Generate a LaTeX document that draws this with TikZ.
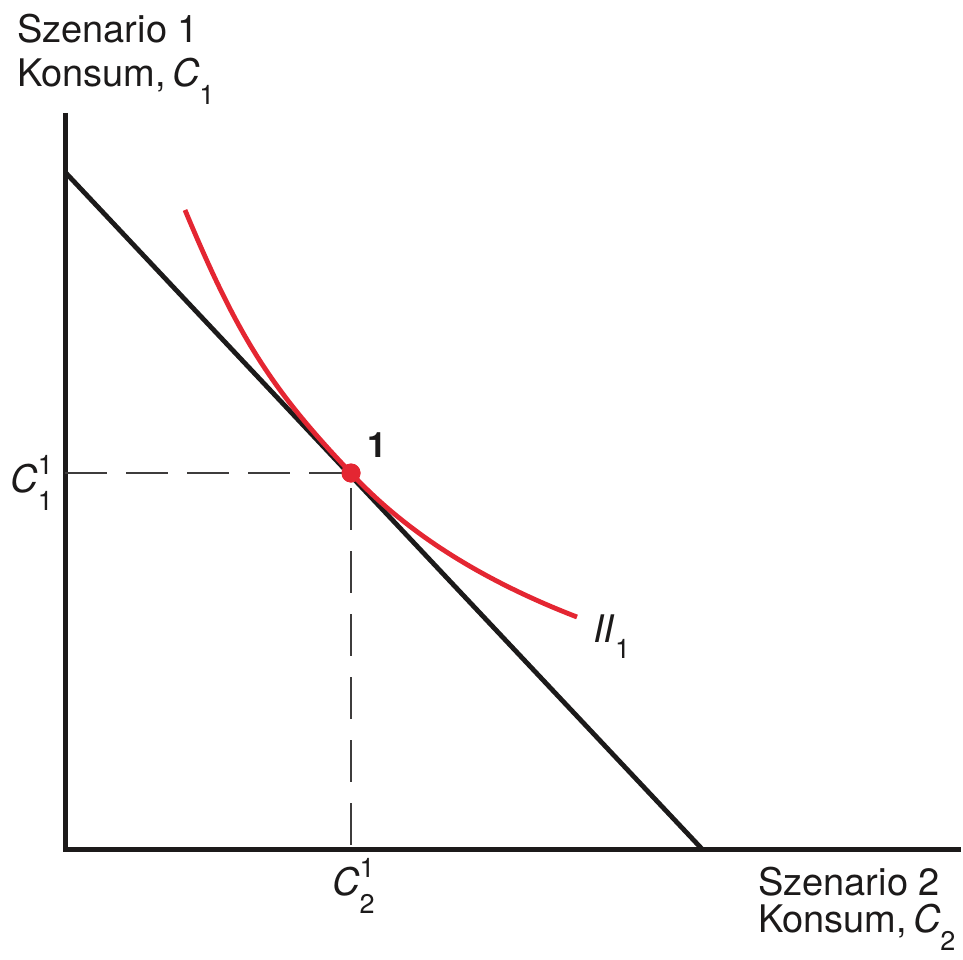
\documentclass[tikz,border=0pt]{standalone}
\usepackage{fontspec}
\setmainfont{TeX Gyre Heros}
\definecolor{curvered}{RGB}{228,38,50}
\definecolor{ink}{RGB}{28,26,26}
\newcommand{\scriptnum}[1]{{\fontsize{27}{27}\selectfont #1}}
\newcommand{\subonly}[2]{#1\raisebox{-18pt}{\scriptnum{#2}}}
\newcommand{\supandsub}[3]{#1\rlap{\raisebox{18pt}{\scriptnum{#2}}}\raisebox{-18pt}{\scriptnum{#3}}}
\begin{document}
\begin{tikzpicture}[x=1pt,y=-1pt,
  lbl/.style={inner sep=0pt, text=ink, font=\fontsize{38}{44}\selectfont},
  axisline/.style={line width=5pt, draw=ink},
  budget/.style={line width=4.8pt, draw=ink},
  indiff/.style={line width=4.8pt, draw=curvered},
  guide/.style={line width=2pt, draw=ink!85}]
\useasboundingbox (0,0) rectangle (963,960);
% coordinates
\coordinate (O) at (65,849);
\coordinate (Ytop) at (65,113);
\coordinate (Xend) at (961,849);
\coordinate (B1) at (65,172);
\coordinate (B2) at (702,849);
\coordinate (S) at (185,210);
\coordinate (E) at (577,617);
\coordinate (Hs) at (65,473);
% axes
\draw[axisline] (Ytop) -- (O) -- (Xend);
% budget line
\draw[budget] (B1) -- (B2);
% tangency point
\node[circle, fill=curvered, minimum size=19pt, inner sep=0pt] (P) at (351,473) {};
% dashed guides
\draw[guide, dash pattern=on 42pt off 19pt] (Hs) -- (P.center);
\draw[guide, dash pattern=on 42pt off 21pt, dash phase=48pt] (P.center) -- (P |- O);
% indifference curve
\draw[indiff] (S) .. controls (237.4,335.8) and (270.6,388.5) .. (P.center)
  .. controls (406,532.4) and (481.3,580) .. (E);
\node[circle, fill=curvered, minimum size=19pt, inner sep=0pt] at (P) {};
% labels
\node[lbl, anchor=base west] (t1) at (17,43) {Szenario 1};
\node[lbl, anchor=base west] (t2) at (17,87) {Konsum,\hspace{6pt}\subonly{\textit{C}}{1}};
\node[lbl, anchor=base east] (c11) at (53,492) {\supandsub{\textit{C}}{1}{1}};
\node[lbl, anchor=base west, font=\fontsize{35}{40}\selectfont\bfseries] (one) at (367,457) {1};
\node[lbl, anchor=base west] (ii) at (593,642) {\textit{II}\raisebox{-16pt}{\scriptnum{1}}};
\node[lbl, anchor=base west] (c21) at (332,895) {\supandsub{\textit{C}}{1}{2}};
\node[lbl, anchor=base west] (t3) at (758,895) {Szenario 2};
\node[lbl, anchor=base west] (t4) at (758,932) {Konsum,\hspace{6pt}\subonly{\textit{C}}{2}};
\end{tikzpicture}
\end{document}
